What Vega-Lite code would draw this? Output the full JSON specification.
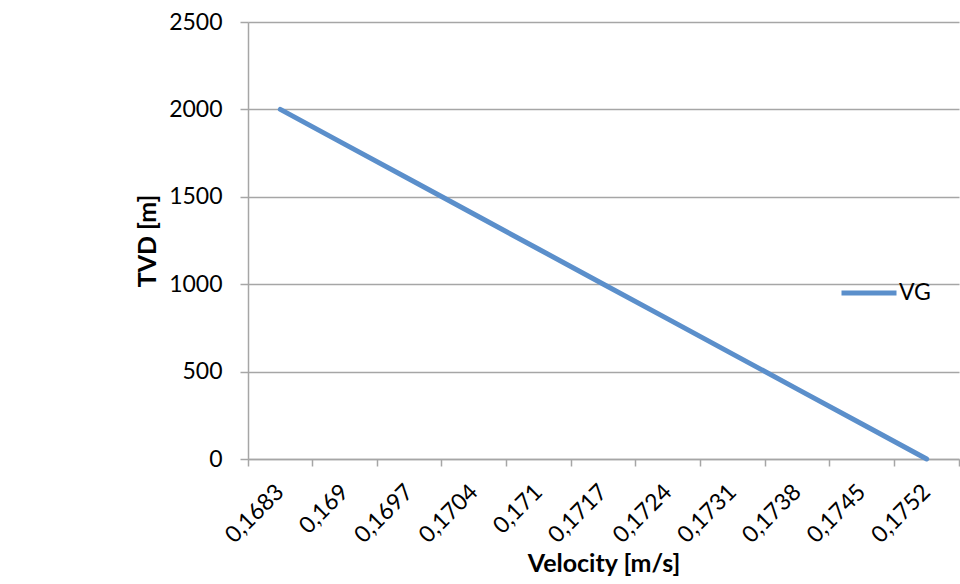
{
  "$schema": "https://vega.github.io/schema/vega-lite/v6.json",
  "width": 711,
  "height": 437,
  "autosize": {"type": "none"},
  "padding": {"left": 248, "top": 22, "right": 1, "bottom": 125},
  "background": "white",
  "config": {
    "view": {"stroke": null},
    "font": "Lato",
    "axis": {
      "labelFont": "Lato",
      "titleFont": "Lato",
      "labelFontSize": 23,
      "titleFontSize": 25,
      "labelColor": "#000000",
      "titleColor": "#000000",
      "titleFontWeight": "bold",
      "domainColor": "#A6A6A6",
      "tickColor": "#A6A6A6",
      "gridColor": "#A6A6A6",
      "domainWidth": 1.5,
      "tickWidth": 1.5,
      "gridWidth": 1.5
    }
  },
  "data": {
    "values": [
      {"velocity": "0,1683", "tvd": 2000, "series": "VG"},
      {"velocity": "0,169", "tvd": 1800, "series": "VG"},
      {"velocity": "0,1697", "tvd": 1600, "series": "VG"},
      {"velocity": "0,1704", "tvd": 1400, "series": "VG"},
      {"velocity": "0,171", "tvd": 1200, "series": "VG"},
      {"velocity": "0,1717", "tvd": 1000, "series": "VG"},
      {"velocity": "0,1724", "tvd": 800, "series": "VG"},
      {"velocity": "0,1731", "tvd": 600, "series": "VG"},
      {"velocity": "0,1738", "tvd": 400, "series": "VG"},
      {"velocity": "0,1745", "tvd": 200, "series": "VG"},
      {"velocity": "0,1752", "tvd": 0, "series": "VG"}
    ]
  },
  "mark": {"type": "line", "strokeWidth": 5, "strokeCap": "round"},
  "encoding": {
    "x": {
      "field": "velocity",
      "type": "ordinal",
      "sort": null,
      "bandPosition": 0.5,
      "scale": {"type": "band", "paddingInner": 0, "paddingOuter": 0},
      "axis": {
        "title": "Velocity [m/s]",
        "labelAngle": -45,
        "labelAlign": "right",
        "labelBaseline": "middle",
        "bandPosition": 1,
        "tickExtra": true,
        "tickSize": 7,
        "labelPadding": 22,
        "titlePadding": 4,
        "grid": false
      }
    },
    "y": {
      "field": "tvd",
      "type": "quantitative",
      "scale": {"domain": [0, 2500], "nice": false},
      "axis": {
        "title": "TVD [m]",
        "format": "d",
        "values": [0, 500, 1000, 1500, 2000, 2500],
        "tickSize": 8,
        "labelPadding": 18,
        "titlePadding": 8,
        "grid": true
      }
    },
    "color": {
      "field": "series",
      "type": "nominal",
      "scale": {"range": ["#5B8FCB"]},
      "legend": {
        "title": null,
        "orient": "none",
        "legendX": 591,
        "legendY": 241,
        "padding": 0,
        "symbolType": "stroke",
        "symbolStrokeWidth": 5,
        "symbolSize": 3025,
        "labelFontSize": 23,
        "labelFont": "Lato",
        "labelColor": "#000000",
        "labelOffset": 0
      }
    }
  }
}
